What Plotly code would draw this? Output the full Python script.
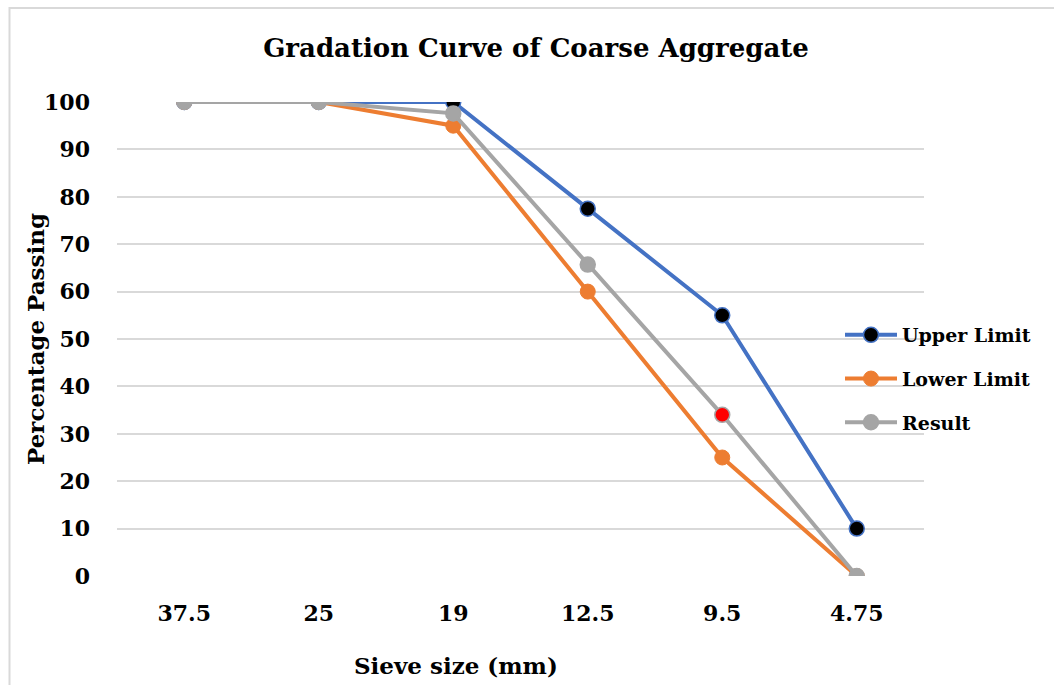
import plotly.graph_objects as go

# Sieve sizes (mm) and percentage passing
sieve_sizes = ["37.5", "25", "19", "12.5", "9.5", "4.75"]
upper_limit = [100, 100, 100, 77.5, 55, 10]
lower_limit = [100, 100, 95, 60, 25, 0]
result = [100, 100, 97.6, 65.7, 34, 0]
y_ticks = [0, 10, 20, 30, 40, 50, 60, 70, 80, 90, 100]

FONT = "DejaVu Serif"
BLUE = "#4472C4"
ORANGE = "#ED7D31"
GRAY = "#A5A5A5"
BLACK = "#000000"

result_marker_colors = [GRAY, GRAY, GRAY, GRAY, "#FF0000", GRAY]

fig = go.Figure()
fig.add_trace(go.Scatter(
    x=sieve_sizes, y=upper_limit, name="<b>Upper Limit</b>", mode="lines+markers",
    line=dict(color=BLUE, width=4),
    marker=dict(size=15, color=BLACK, line=dict(color=BLUE, width=1.5)),
    legendgroup="u",
))
fig.add_trace(go.Scatter(
    x=sieve_sizes, y=lower_limit, name="<b>Lower Limit</b>", mode="lines+markers",
    line=dict(color=ORANGE, width=4),
    marker=dict(size=15, color=ORANGE, line=dict(color=ORANGE, width=1)),
    legendgroup="l",
))
fig.add_trace(go.Scatter(
    x=sieve_sizes, y=result, name="<b>Result</b>", mode="lines+markers",
    line=dict(color=GRAY, width=4),
    marker=dict(size=15, color=result_marker_colors, line=dict(color=GRAY, width=1.5)),
    legendgroup="r",
))

L, R, T, B = 117, 130, 102, 109
W, H = 1054, 685
pw = W - L - R
ph = H - T - B


def px_x(px):
    return (px - L) / pw


def px_y(py):
    return (H - B - py) / ph


# light outer chart frame (top and left edges)
fx, fy = px_x(9.5), px_y(8)
fig.add_shape(type="path", xref="paper", yref="paper",
              path=f"M {fx} {px_y(690)} L {fx} {fy} L {px_x(1060)} {fy}",
              line=dict(color="#D9D9D9", width=2))

# axis titles
fig.add_annotation(text="<b>Sieve size (mm)</b>", xref="paper", yref="paper",
                   x=px_x(456), y=px_y(665), xanchor="center", yanchor="middle",
                   showarrow=False, font=dict(family=FONT, size=23, color=BLACK))
fig.add_annotation(text="<b>Percentage Passing</b>", xref="paper", yref="paper",
                   x=px_x(35), y=px_y(339), xanchor="center", yanchor="middle",
                   textangle=-90, showarrow=False,
                   font=dict(family=FONT, size=23, color=BLACK))

fig.update_layout(
    width=W, height=H,
    margin=dict(l=L, r=R, t=T, b=B),
    paper_bgcolor="white", plot_bgcolor="white",
    showlegend=True,
    title=dict(text="<b>Gradation Curve of Coarse Aggregate</b>",
               x=536 / W, xanchor="center",
               y=1 - 48 / H, yanchor="middle",
               font=dict(family=FONT, size=26, color=BLACK)),
    font=dict(family=FONT, color=BLACK),
    legend=dict(x=px_x(840), xanchor="left", y=px_y(316), yanchor="top",
                font=dict(family=FONT, size=19, color=BLACK),
                itemwidth=52, tracegroupgap=16, bgcolor="rgba(0,0,0,0)"),
    xaxis=dict(showgrid=False, showline=False, ticks="", zeroline=False,
               tickmode="array", tickvals=sieve_sizes,
               ticktext=[f"<b>{s}</b>" for s in sieve_sizes],
               tickfont=dict(family=FONT, size=22, color=BLACK),
               ticklabelstandoff=22, range=[-0.5, 5.5]),
    yaxis=dict(range=[0, 100], tickmode="array", tickvals=y_ticks,
               ticktext=[f"<b>{v}</b>" for v in y_ticks],
               showgrid=True, gridcolor="#D9D9D9", gridwidth=1.5,
               zeroline=False, showline=False, ticks="",
               tickfont=dict(family=FONT, size=22, color=BLACK),
               ticklabelstandoff=26),
)

fig.write_html("out.html")
